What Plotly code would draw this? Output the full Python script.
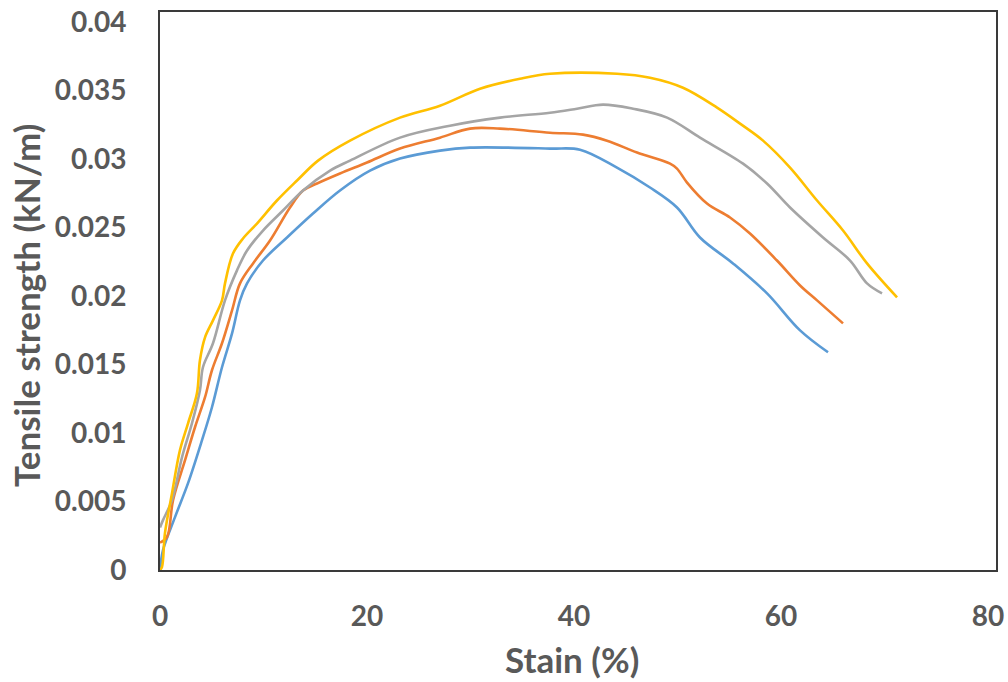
import plotly.graph_objects as go

# Strain (%) and tensile strength (kN/m) for four samples
blue_x = [0, 0.29, 1.45, 2.71, 4.06, 5.02, 5.99, 6.96, 7.73, 8.41, 9.95, 12.27, 14.78, 17.39, 20.29,
          23.19, 27.05, 29.95, 37.68, 40.58, 44.15, 47.34, 49.95, 52.17, 55.36, 58.65, 61.84, 64.54]
blue_y = [0, 0.00146, 0.00386, 0.00634, 0.00948, 0.01188, 0.01480, 0.01727, 0.01968, 0.02092, 0.02259,
          0.02427, 0.02602, 0.02770, 0.02915, 0.03003, 0.03061, 0.03083, 0.03076, 0.03068, 0.02937,
          0.02792, 0.02646, 0.02427, 0.02238, 0.02019, 0.01749, 0.01589]

orange_x = [0, 0.68, 1.26, 2.42, 3.38, 4.35, 5.02, 5.99, 6.96, 7.73, 8.99, 10.63, 12.56, 13.82, 15.17,
            17.39, 20.0, 23.19, 27.05, 29.95, 32.85, 37.68, 40.87, 43.19, 46.09, 49.28, 49.95, 50.92,
            52.85, 55.07, 57.0, 59.61, 61.84, 63.48, 65.99]
orange_y = [0.0020, 0.00241, 0.00510, 0.00802, 0.01042, 0.01261, 0.01458, 0.01655, 0.01895, 0.02092,
            0.02238, 0.02405, 0.02646, 0.02770, 0.02821, 0.02894, 0.02974, 0.03076, 0.03156, 0.03222,
            0.03222, 0.03192, 0.03178, 0.03134, 0.03047, 0.02966, 0.02930, 0.02828, 0.02675, 0.02573,
            0.02456, 0.02259, 0.02077, 0.01968, 0.01800]

gray_x = [0, 0.29, 1.16, 2.13, 3.09, 3.86, 4.15, 5.12, 6.28, 7.44, 8.41, 9.95, 11.88, 13.82, 16.43,
          18.36, 23.19, 28.02, 32.85, 37.68, 40.29, 42.80, 45.70, 48.99, 52.17, 56.33, 58.65, 60.87,
          64.06, 66.67, 68.31, 69.76]
gray_y = [0.0031, 0.00364, 0.00510, 0.00824, 0.01071, 0.01312, 0.01480, 0.01655, 0.01968, 0.02187,
          0.02332, 0.02478, 0.02624, 0.02770, 0.02915, 0.02988, 0.03156, 0.03243, 0.03302, 0.03338,
          0.03367, 0.03397, 0.03367, 0.03302, 0.03156, 0.02966, 0.02821, 0.02646, 0.02427, 0.02259,
          0.02092, 0.02019]

yellow_x = [0, 0.19, 0.48, 1.16, 1.93, 2.71, 3.57, 3.86, 4.35, 5.12, 5.99, 6.28, 7.05, 8.02, 9.37,
            11.30, 13.24, 15.27, 18.36, 23.19, 27.05, 30.92, 34.78, 37.68, 44.15, 47.34, 50.53, 53.82,
            56.04, 58.26, 60.87, 63.48, 65.99, 68.31, 71.21]
yellow_y = [0, 0.00022, 0.00270, 0.00561, 0.00875, 0.01071, 0.01290, 0.01531, 0.01698, 0.01822, 0.01968,
            0.02092, 0.02310, 0.02420, 0.02529, 0.02697, 0.02843, 0.02988, 0.03134, 0.03302, 0.03389,
            0.03513, 0.03586, 0.03622, 0.03622, 0.03593, 0.03520, 0.03375, 0.03258, 0.03134, 0.02937,
            0.02697, 0.02478, 0.02238, 0.01990]

x_ticks = [0, 20, 40, 60, 80]
y_ticks = [0, 0.005, 0.01, 0.015, 0.02, 0.025, 0.03, 0.035, 0.04]
y_tick_text = ["0", "0.005", "0.01", "0.015", "0.02", "0.025", "0.03", "0.035", "0.04"]

series = [
    (blue_x, blue_y, "#5B9BD5"),
    (orange_x, orange_y, "#ED7D31"),
    (gray_x, gray_y, "#A5A5A5"),
    (yellow_x, yellow_y, "#FFC000"),
]

fig = go.Figure()
for xs, ys, col in series:
    fig.add_trace(go.Scatter(x=xs, y=ys, mode="lines",
                             line=dict(color=col, width=2.6, shape="spline", smoothing=1.0),
                             showlegend=False))

tick_font = dict(family="Lato", size=28, color="#595959", weight="bold")
title_font = dict(family="Lato", size=35, color="#595959", weight="bold")

W, H = 1008, 682
L, R, T, B = 160, 12, 12, 112
pw = W - L - R
ph = H - T - B


def px_to_paper_x(px):
    return (px - L) / pw


def px_to_paper_y(py):
    return (H - B - py) / ph


fig.update_layout(
    width=W, height=H,
    margin=dict(l=L, r=R, t=T, b=B),
    paper_bgcolor="white", plot_bgcolor="white",
    xaxis=dict(range=[0, 80.77], tickvals=x_ticks, ticktext=[str(v) for v in x_ticks],
               showgrid=False, zeroline=False, showline=True, mirror=True, automargin=False,
               linecolor="#3a3a3a", linewidth=2, ticks="", tickfont=tick_font,
               ticklabelstandoff=20, ticklabeloverflow="allow"),
    yaxis=dict(range=[0, 0.04073], tickvals=y_ticks, ticktext=y_tick_text,
               showgrid=False, zeroline=False, showline=True, mirror=True, automargin=False,
               linecolor="#3a3a3a", linewidth=2, ticks="", tickfont=tick_font,
               ticklabelstandoff=26, ticklabeloverflow="allow"),
    annotations=[
        dict(text="Stain (%)", xref="paper", yref="paper",
             x=px_to_paper_x(572), y=px_to_paper_y(659), xanchor="center", yanchor="middle",
             showarrow=False, font=title_font),
        dict(text="Tensile strength (kN/m)", textangle=-90, xref="paper", yref="paper",
             x=px_to_paper_x(26), y=px_to_paper_y(306), xanchor="center", yanchor="middle",
             showarrow=False, font=title_font),
    ],
)

fig.write_html("out.html", config={"displayModeBar": False},
               post_script="document.body.style.margin='0';")
